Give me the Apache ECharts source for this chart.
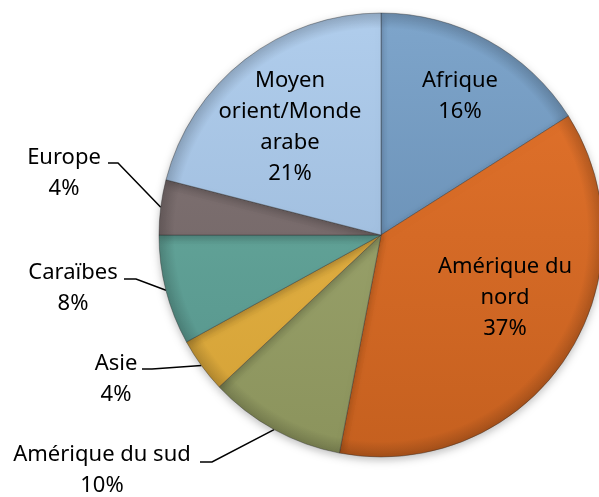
<!DOCTYPE html>
<html>
<head>
<meta charset="utf-8">
<script src="https://cdn.jsdelivr.net/npm/echarts@6/dist/echarts.min.js"></script>
<style>
html, body { margin: 0; padding: 0; background: #fff; }
#chart { width: 599px; height: 497px; }
</style>
</head>
<body>
<div id="chart"></div>
<script>
// 数据 ------------------
var regions = ['Afrique', 'Amérique du nord', 'Amérique du sud', 'Asie', 'Caraïbes', 'Europe', 'Moyen orient/Monde arabe'];
var regionLabels = ['Afrique', 'Amérique du\nnord', 'Amérique du sud', 'Asie', 'Caraïbes', 'Europe', 'Moyen\norient/Monde\narabe'];
var shares = [16, 37, 10, 4, 8, 4, 21];

// 颜色（上/下）
var colorsTop = ['#7ea5cb', '#e5742d', '#a2ab75', '#ecbb4c', '#6cb0a2', '#857878', '#b0cdec'];
var colorsBottom = ['#5d83a8', '#c5601f', '#8b935c', '#d3a035', '#54928a', '#6b5e5f', '#95b3d4'];

// 标签位置 [x, y, 线折点x, 线终点x, 线y]
var labelPos = [
	[460, 96],
	[505, 298],
	[102, 470, 212, 200, 462],
	[116, 379, 152, 142, 369],
	[73, 288, 136, 124, 279],
	[64, 173, 118, 108, 163],
	[290, 127]
];
var insideIdx = [0, 1, 6];

var cx = 381, cy = 235, R = 222;

var chart = echarts.init(document.getElementById('chart'));

var pieData = regions.map(function (name, i) {
	var inside = insideIdx.indexOf(i) >= 0;
	return {
		name: name,
		value: shares[i],
		itemStyle: {
			color: {
				type: 'linear', global: true,
				x: 0, y: cy - R, x2: 0, y2: cy + R,
				colorStops: [
					{ offset: 0, color: colorsTop[i] },
					{ offset: 1, color: colorsBottom[i] }
				]
			}
		},
		label: { position: inside ? 'inside' : 'outside' },
		labelLine: { show: !inside }
	};
});

var option = {
	animation: false,
	series: [{
		type: 'pie',
		center: [cx, cy],
		radius: [0, R],
		startAngle: 90,
		clockwise: true,
		avoidLabelOverlap: false,
		itemStyle: {
			borderColor: 'rgba(50,50,50,0.4)',
			borderWidth: 1,
			shadowBlur: 8,
			shadowColor: 'rgba(0,0,0,0.25)',
			shadowOffsetY: 3
		},
		label: {
			fontFamily: 'Noto Sans',
			fontSize: 22,
			lineHeight: 31,
			color: '#000',
			align: 'center',
			formatter: function (p) {
				return regionLabels[p.dataIndex] + '\n' + p.value + '%';
			}
		},
		labelLine: {
			lineStyle: { color: '#000', width: 1.5 },
			length: 10,
			length2: 10
		},
		labelLayout: function (params) {
			var pos = labelPos[params.dataIndex];
			var res = { x: pos[0], y: pos[1], align: 'center', verticalAlign: 'middle' };
			if (pos.length > 2 && params.labelLinePoints) {
				var p0 = params.labelLinePoints[0];
				res.labelLinePoints = [[p0[0], p0[1]], [pos[2], pos[4]], [pos[3], pos[4]]];
			}
			return res;
		},
		data: pieData
	}, {
		// 边缘阴影（斜面效果）
		type: 'pie',
		center: [cx, cy],
		radius: [0, R],
		startAngle: 90,
		silent: true,
		label: { show: false },
		labelLine: { show: false },
		itemStyle: {
			color: {
				type: 'radial', global: true,
				x: cx, y: cy, r: R,
				colorStops: [
					{ offset: 0, color: 'rgba(0,0,0,0)' },
					{ offset: 0.93, color: 'rgba(0,0,0,0)' },
					{ offset: 1, color: 'rgba(0,0,0,0.18)' }
				]
			},
			borderWidth: 0
		},
		data: shares.map(function (v, i) { return { name: regions[i], value: v }; })
	}]
};

chart.setOption(option);
</script>
</body>
</html>
